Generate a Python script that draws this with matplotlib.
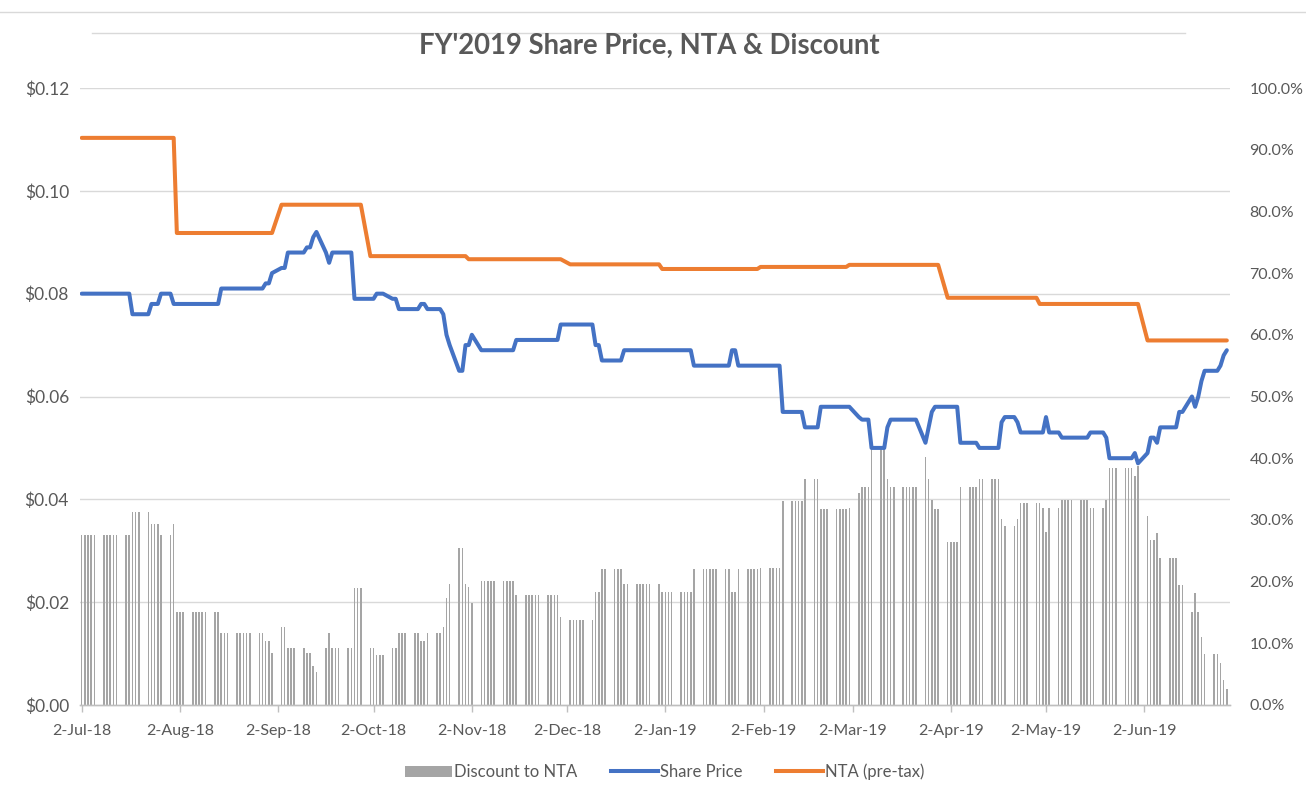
import numpy as np
import pandas as pd
import matplotlib
matplotlib.use("Agg")
import matplotlib.pyplot as plt
import matplotlib.dates as mdates
from matplotlib.ticker import FuncFormatter, FixedLocator
from matplotlib.patches import Patch
from matplotlib.lines import Line2D

plt.rcParams['font.family'] = ['Lato', 'DejaVu Sans']

# ---------------- data (business days 2-Jul-18 .. 28-Jun-19) ----------------
start_date = "2018-07-02"
end_date = "2019-06-28"

# Share price ($), one row per week (Mon..Fri)
share_price_weeks = [
    [0.080, 0.080, 0.080, 0.080, 0.080],
    [0.080, 0.080, 0.080, 0.080, 0.080],
    [0.080, 0.080, 0.076, 0.076, 0.076],
    [0.076, 0.078, 0.078, 0.078, 0.080],
    [0.080, 0.078, 0.078, 0.078, 0.078],
    [0.078, 0.078, 0.078, 0.078, 0.078],
    [0.078, 0.078, 0.081, 0.081, 0.081],
    [0.081, 0.081, 0.081, 0.081, 0.081],
    [0.081, 0.081, 0.082, 0.082, 0.084],
    [0.085, 0.085, 0.088, 0.088, 0.088],
    [0.088, 0.089, 0.089, 0.091, 0.092],
    [0.088, 0.086, 0.088, 0.088, 0.088],
    [0.088, 0.088, 0.079, 0.079, 0.079],
    [0.079, 0.079, 0.080, 0.080, 0.080],
    [0.079, 0.079, 0.077, 0.077, 0.077],
    [0.077, 0.077, 0.078, 0.078, 0.077],
    [0.077, 0.077, 0.076, 0.072, 0.070],
    [0.065, 0.065, 0.070, 0.070, 0.072],
    [0.069, 0.069, 0.069, 0.069, 0.069],
    [0.069, 0.069, 0.069, 0.069, 0.071],
    [0.071, 0.071, 0.071, 0.071, 0.071],
    [0.071, 0.071, 0.071, 0.071, 0.074],
    [0.074, 0.074, 0.074, 0.074, 0.074],
    [0.074, 0.070, 0.070, 0.067, 0.067],
    [0.067, 0.067, 0.067, 0.069, 0.069],
    [0.069, 0.069, 0.069, 0.069, 0.069],
    [0.069, 0.069, 0.069, 0.069, 0.069],
    [0.069, 0.069, 0.069, 0.069, 0.066],
    [0.066, 0.066, 0.066, 0.066, 0.066],
    [0.066, 0.066, 0.069, 0.069, 0.066],
    [0.066, 0.066, 0.066, 0.066, 0.066],
    [0.066, 0.066, 0.066, 0.066, 0.057],
    [0.057, 0.057, 0.057, 0.057, 0.054],
    [0.054, 0.054, 0.058, 0.058, 0.058],
    [0.058, 0.058, 0.058, 0.058, 0.058],
    [0.056, 0.0555, 0.0555, 0.0555, 0.050],
    [0.050, 0.050, 0.054, 0.0555, 0.0555],
    [0.0555, 0.0555, 0.0555, 0.0555, 0.0555],
    [0.051, 0.054, 0.057, 0.058, 0.058],
    [0.058, 0.058, 0.058, 0.058, 0.051],
    [0.051, 0.051, 0.051, 0.050, 0.050],
    [0.050, 0.050, 0.050, 0.055, 0.056],
    [0.056, 0.055, 0.053, 0.053, 0.053],
    [0.053, 0.053, 0.053, 0.056, 0.053],
    [0.053, 0.052, 0.052, 0.052, 0.052],
    [0.052, 0.052, 0.052, 0.053, 0.053],
    [0.053, 0.052, 0.048, 0.048, 0.048],
    [0.048, 0.048, 0.048, 0.049, 0.047],
    [0.049, 0.052, 0.052, 0.051, 0.054],
    [0.054, 0.054, 0.054, 0.057, 0.057],
    [0.060, 0.058, 0.060, 0.063, 0.065],
    [0.065, 0.065, 0.066, 0.068, 0.069],
]

# NTA (pre-tax) as (value, number of consecutive business days)
nta_runs = [
    (0.1103, 22), (0.0918, 23), (0.0973, 20), (0.0873, 23),
    (0.0867, 22), (0.0857, 21), (0.0848, 23), (0.0852, 20),
    (0.0856, 21), (0.0792, 21), (0.0780, 24), (0.0709, 20),
]

# Discount to NTA (%), one row per week (Mon..Fri)
discount_weeks = [
    [27.6, 27.6, 27.6, 27.6, 27.6],
    [27.6, 27.6, 27.6, 27.6, 27.6],
    [27.6, 27.6, 31.2, 31.2, 31.2],
    [31.2, 29.4, 29.4, 29.4, 27.6],
    [27.6, 29.4, 15.0, 15.0, 15.0],
    [15.0, 15.0, 15.0, 15.0, 15.0],
    [15.0, 15.0, 11.6, 11.6, 11.6],
    [11.6, 11.6, 11.6, 11.6, 11.6],
    [11.6, 11.6, 10.4, 10.4, 8.4],
    [12.7, 12.7, 9.3, 9.3, 9.3],
    [9.3, 8.4, 8.4, 6.3, 5.3],
    [9.3, 11.6, 9.3, 9.3, 9.3],
    [9.3, 9.3, 18.9, 18.9, 18.9],
    [9.3, 9.3, 8.1, 8.1, 8.1],
    [9.3, 9.3, 11.6, 11.6, 11.6],
    [11.6, 11.6, 10.4, 10.4, 11.6],
    [11.6, 11.6, 12.7, 17.3, 19.6],
    [25.5, 25.5, 19.6, 19.1, 16.6],
    [20.1, 20.1, 20.1, 20.1, 20.1],
    [20.1, 20.1, 20.1, 20.1, 17.8],
    [17.8, 17.8, 17.8, 17.8, 17.8],
    [17.8, 17.8, 17.8, 17.8, 14.2],
    [13.7, 13.7, 13.7, 13.7, 13.7],
    [13.7, 18.3, 18.3, 22.0, 22.0],
    [22.0, 22.0, 22.0, 19.6, 19.6],
    [19.6, 19.6, 19.6, 19.6, 19.6],
    [19.6, 18.3, 18.3, 18.3, 18.3],
    [18.3, 18.3, 18.3, 18.3, 22.0],
    [22.0, 22.0, 22.0, 22.0, 22.0],
    [22.0, 22.0, 18.3, 18.3, 22.0],
    [22.0, 22.0, 22.0, 22.0, 22.2],
    [22.2, 22.2, 22.2, 22.2, 33.0],
    [33.0, 33.0, 33.0, 33.0, 36.6],
    [36.6, 36.6, 31.7, 31.7, 31.7],
    [31.7, 31.7, 31.7, 31.7, 31.9],
    [34.3, 35.3, 35.3, 35.3, 41.5],
    [41.5, 41.5, 36.6, 35.3, 35.3],
    [35.3, 35.3, 35.3, 35.3, 35.3],
    [40.2, 36.6, 33.2, 31.8, 31.8],
    [26.4, 26.4, 26.4, 26.4, 35.3],
    [35.3, 35.3, 35.3, 36.6, 36.6],
    [36.6, 36.6, 36.6, 30.2, 29.0],
    [29.0, 30.2, 32.8, 32.8, 32.8],
    [32.8, 32.8, 32.0, 28.0, 32.0],
    [32.0, 33.2, 33.2, 33.2, 33.2],
    [33.2, 33.2, 33.2, 32.0, 32.0],
    [32.0, 33.2, 38.4, 38.4, 38.4],
    [38.4, 38.4, 38.4, 37.1, 38.8],
    [30.7, 26.7, 26.7, 27.9, 23.9],
    [23.9, 23.9, 23.9, 19.5, 19.5],
    [15.1, 18.2, 15.1, 11.0, 8.3],
    [8.3, 8.3, 6.8, 4.0, 2.6],
]

left_ticks = [0.00, 0.02, 0.04, 0.06, 0.08, 0.10, 0.12]
right_ticks = [0, 10, 20, 30, 40, 50, 60, 70, 80, 90, 100]
x_tick_dates = ["2018-07-02", "2018-08-02", "2018-09-02", "2018-10-02",
                "2018-11-02", "2018-12-02", "2019-01-02", "2019-02-02",
                "2019-03-02", "2019-04-02", "2019-05-02", "2019-06-02"]
title = "FY'2019 Share Price, NTA & Discount"
series_names = ["Discount to NTA", "Share Price", "NTA (pre-tax)"]

# ---------------- assemble ----------------
dates = pd.bdate_range(start_date, end_date)
share_price = np.concatenate([np.array(w, float) for w in share_price_weeks])
nta = np.concatenate([np.full(n, v) for v, n in nta_runs])
discount = np.concatenate([np.array(w, float) for w in discount_weeks])
x = mdates.date2num(dates.to_pydatetime())

# ---------------- style ----------------
TXT = "#595959"
GRID = "#D9D9D9"
BAR = "#A5A5A5"
BLUE = "#4472C4"
ORANGE = "#ED7D31"

W, H = 1306, 787
fig = plt.figure(figsize=(W / 100, H / 100), dpi=100)
L, R, T, B = 80.1, 1230.0, 88.0, 705.0
ax = fig.add_axes([L / W, 1 - B / H, (R - L) / W, (B - T) / H])
ax2 = ax.twinx()

# bars (secondary axis, %)
ax2.bar(x, discount, width=0.5, color=BAR, zorder=2, linewidth=0)
for t in left_ticks[1:]:
    ax2.axhline(t / 0.12 * 100, color=GRID, lw=1.0, zorder=0)
ax2.set_ylim(0, 100)
ax2.yaxis.set_major_locator(FixedLocator(right_ticks))
ax2.yaxis.set_major_formatter(FuncFormatter(lambda v, p: f"{v:.1f}%"))

# lines (primary axis, $)
ax.set_zorder(ax2.get_zorder() + 1)
ax.patch.set_visible(False)
ax.plot(x, share_price, color=BLUE, lw=2.9, solid_joinstyle="round", solid_capstyle="round", zorder=3)
ax.plot(x, nta, color=ORANGE, lw=2.9, solid_joinstyle="round", solid_capstyle="round", zorder=3)
ax.set_ylim(0, 0.12)
ax.yaxis.set_major_locator(FixedLocator(left_ticks))
ax.yaxis.set_major_formatter(FuncFormatter(lambda v, p: f"${v:.2f}"))

x0 = x[0] - 0.5
x1 = x[-1] + 1.0
ax.set_xlim(x0, x1)
ax2.set_xlim(x0, x1)

tick_nums = mdates.date2num(pd.to_datetime(x_tick_dates).to_pydatetime())
ax.xaxis.set_major_locator(FixedLocator(tick_nums))
ax.xaxis.set_major_formatter(FuncFormatter(
    lambda v, p: (lambda d: f"{d.day}-{d.strftime('%b-%y')}")(mdates.num2date(v))))

for a in (ax, ax2):
    for s in ("top", "left", "right"):
        a.spines[s].set_visible(False)
    a.spines["bottom"].set_color("#BFBFBF")
    a.spines["bottom"].set_linewidth(1.0)

ax.tick_params(axis="y", length=0, pad=8, labelsize=12.5, labelcolor=TXT)
ax2.tick_params(axis="y", length=0, pad=14, labelsize=11.5, labelcolor=TXT)
ax.tick_params(axis="x", length=5, width=1, color="#BFBFBF", pad=9, labelsize=11.5, labelcolor=TXT)
ax2.tick_params(axis="x", bottom=False, labelbottom=False)

fig.text(0.497, 1 - 46 / H, title, ha="center", va="center", fontsize=19.8,
         fontweight="bold", color=TXT)

# frame lines at top
fig.add_artist(Line2D([0, 1], [1 - 12 / H, 1 - 12 / H], color=GRID, lw=1.0))
fig.add_artist(Line2D([92 / W, 1185 / W], [1 - 33 / H, 1 - 33 / H], color=GRID, lw=1.0))

handles = [Patch(facecolor=BAR, edgecolor="none"),
           Line2D([], [], color=BLUE, lw=2.9),
           Line2D([], [], color=ORANGE, lw=2.9)]
fig.legend(handles, series_names, loc="center", bbox_to_anchor=(0.509, 1 - 772 / H),
           ncol=3, frameon=False, fontsize=12, labelcolor=TXT, handlelength=2.8,
           handletextpad=0.15, columnspacing=2.0, handleheight=0.7)

fig.savefig("out.png", dpi=100)
